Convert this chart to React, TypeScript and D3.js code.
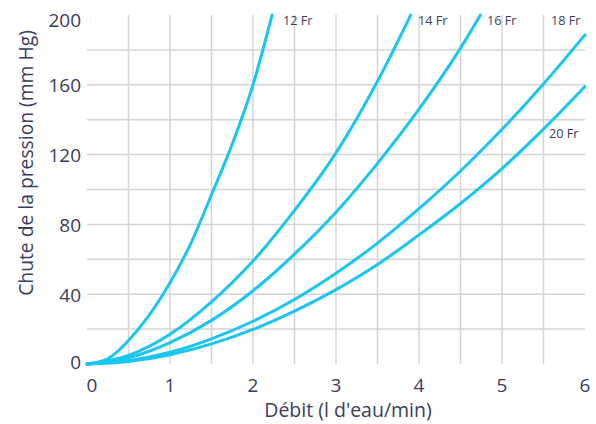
import React from "react";
import * as d3 from "d3";

const W = 596;
const H = 424;

const series = [
  { name: "12 Fr", x: [0, 0.25, 0.5, 0.75, 1, 1.25, 1.5, 1.75, 2, 2.23], y: [0, 3, 13.5, 28, 46.5, 69, 97, 126, 160, 200] },
  { name: "14 Fr", x: [0, 0.5, 1, 1.5, 2, 2.5, 3, 3.5, 3.9], y: [0, 4.9, 17, 35.6, 59, 88, 121, 162, 200] },
  { name: "16 Fr", x: [0, 0.5, 1, 1.5, 2, 2.5, 3, 3.5, 4, 4.5, 4.74], y: [0, 3.5, 12.2, 25, 42, 63, 87, 115, 146, 181, 200] },
  { name: "18 Fr", x: [0, 0.5, 1, 1.5, 2, 2.5, 3, 3.5, 4, 4.5, 5, 5.5, 6], y: [0, 1.9, 6.7, 14.4, 24.5, 37, 52, 69.3, 89, 110.6, 134.5, 160.5, 188.6] },
  { name: "20 Fr", x: [0, 0.5, 1, 1.5, 2, 2.5, 3, 3.5, 4, 4.5, 5, 5.5, 6], y: [0, 1.4, 5.3, 11.5, 19.8, 30.3, 42.6, 57, 74, 92, 112, 134.6, 159] },
];

const xTicks = [0, 1, 2, 3, 4, 5, 6];
const yTicks = [0, 40, 80, 120, 160, 200];
const xGrid = [0.5, 1, 1.5, 2, 2.5, 3, 3.5, 4, 4.5, 5, 5.5];
const yGrid = [20, 40, 60, 80, 100, 120, 140, 160, 180];

const labels = [
  { text: "12 Fr", x: 283, y: 25 },
  { text: "14 Fr", x: 418, y: 25 },
  { text: "16 Fr", x: 487, y: 25 },
  { text: "18 Fr", x: 551, y: 25 },
  { text: "20 Fr", x: 549, y: 138 },
];

const FONT = "'Open Sans', 'Noto Sans', sans-serif";
const TEXT = "#3a3d5c";
const LINE = "#1ac6ef";

export default function App() {
  const x = d3.scaleLinear().domain([0, 6]).range([87, 585]);
  const y = d3.scaleLinear().domain([0, 200]).range([364, 15]);
  const line = d3
    .line<[number, number]>()
    .x((d) => x(d[0]))
    .y((d) => y(d[1]))
    .curve(d3.curveMonotoneX);

  const yNudge = (v: number) => (v === 200 ? 5 : v === 0 ? -2 : 1);
  const xNudge = (v: number) => (v === 0 ? 5 : 0);

  return (
    <svg width={W} height={H} style={{ position: "absolute", left: 0, top: 0, background: "#fff" }}>
      <g>
        {xGrid.map((v) => (
          <line key={"gx" + v} x1={x(v)} x2={x(v)} y1={y(200)} y2={y(0)} stroke="#d4d4d4" strokeWidth={1.5} />
        ))}
        {yGrid.map((v) => (
          <line key={"gy" + v} x1={x(0)} x2={x(6)} y1={y(v)} y2={y(v)} stroke="#d4d4d4" strokeWidth={1.5} />
        ))}
      </g>
      <g>
        {series.map((s) => (
          <path
            key={s.name}
            d={line(s.x.map((v, i) => [v, s.y[i]] as [number, number])) || ""}
            fill="none"
            stroke={LINE}
            strokeWidth={3}
            strokeLinecap="round"
          />
        ))}
      </g>
      <g fontFamily={FONT} fill={TEXT}>
        {yTicks.map((v) => (
          <text key={"ty" + v} x={81} y={y(v) + yNudge(v) + 6.5} textAnchor="end" fontSize={19}>
            {v}
          </text>
        ))}
        {xTicks.map((v) => (
          <text key={"tx" + v} x={x(v) + xNudge(v)} y={392} textAnchor="middle" fontSize={19}>
            {v}
          </text>
        ))}
        <text x={348} y={417} textAnchor="middle" fontSize={19.5}>
          Débit (l d'eau/min)
        </text>
        <text transform="translate(33,163) rotate(-90)" textAnchor="middle" fontSize={19.3}>
          Chute de la pression (mm Hg)
        </text>
        {labels.map((l) => (
          <text key={l.text} x={l.x} y={l.y} fontSize={12.7}>
            {l.text}
          </text>
        ))}
      </g>
    </svg>
  );
}
